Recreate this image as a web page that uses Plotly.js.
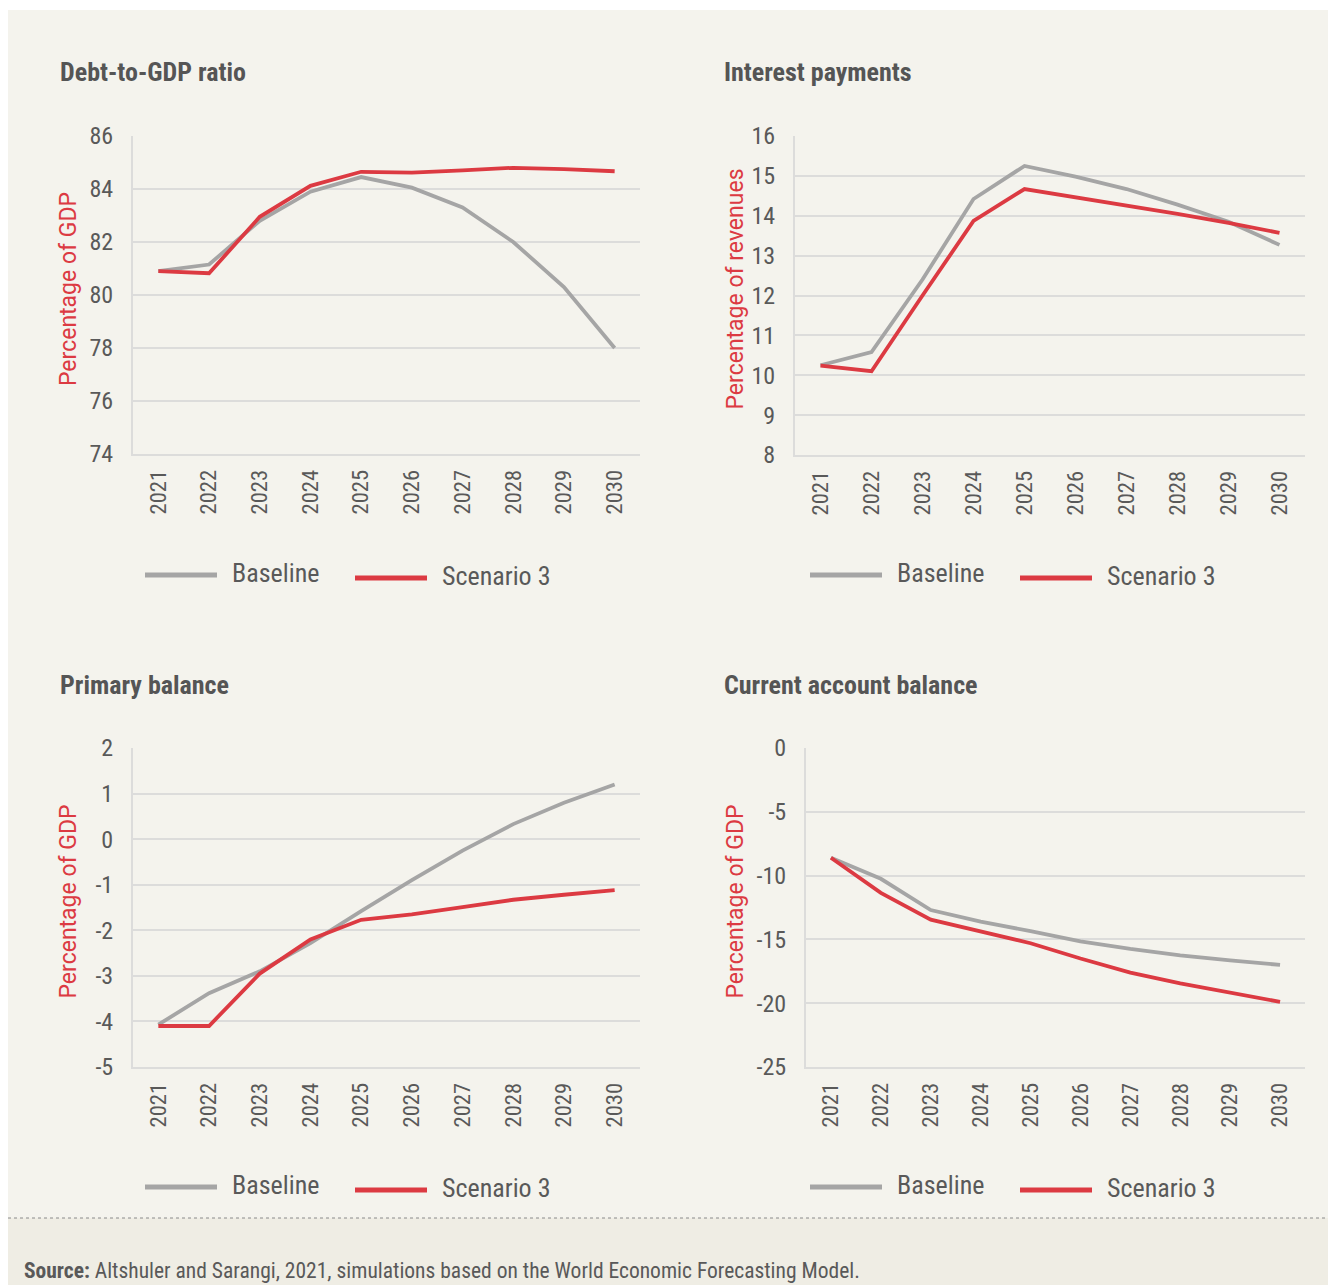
<!DOCTYPE html>
<html>
<head>
<meta charset="utf-8">
<script src="https://cdn.plot.ly/plotly-3.0.1.min.js"></script>
<style>
html,body{margin:0;padding:0;background:#fff;}
#chart{width:1328px;height:1285px;}
</style>
</head>
<body>
<div id="chart"></div>
<script>
const years = ['2021','2022','2023','2024','2025','2026','2027','2028','2029','2030'];
const seriesNames = ['Baseline', 'Scenario 3'];
const panelTitles = ['Debt-to-GDP ratio', 'Interest payments', 'Primary balance', 'Current account balance'];
const axisTitles = ['Percentage of GDP', 'Percentage of revenues', 'Percentage of GDP', 'Percentage of GDP'];

const debtBaseline      = [80.9, 81.15, 82.8, 83.9, 84.45, 84.05, 83.3, 82.0, 80.3, 78.0];
const debtScenario3     = [80.9, 80.82, 82.95, 84.12, 84.65, 84.62, 84.7, 84.8, 84.75, 84.67];
const interestBaseline  = [10.25, 10.58, 12.4, 14.42, 15.25, 14.98, 14.67, 14.28, 13.85, 13.27];
const interestScenario3 = [10.24, 10.1, 12.0, 13.87, 14.67, 14.47, 14.27, 14.05, 13.82, 13.57];
const primaryBaseline   = [-4.07, -3.38, -2.9, -2.28, -1.58, -0.9, -0.25, 0.33, 0.8, 1.2];
const primaryScenario3  = [-4.1, -4.1, -2.95, -2.2, -1.77, -1.65, -1.49, -1.33, -1.22, -1.12];
const caBaseline        = [-8.6, -10.25, -12.7, -13.6, -14.35, -15.15, -15.75, -16.25, -16.65, -17.0];
const caScenario3       = [-8.6, -11.35, -13.45, -14.4, -15.3, -16.5, -17.6, -18.45, -19.2, -19.9];

const debtTicks     = [74, 76, 78, 80, 82, 84, 86];
const interestTicks = [8, 9, 10, 11, 12, 13, 14, 15, 16];
const primaryTicks  = [-5, -4, -3, -2, -1, 0, 1, 2];
const caTicks       = [-25, -20, -15, -10, -5, 0];

const panelTicks = [debtTicks, interestTicks, primaryTicks, caTicks];
const panelData = [[debtBaseline, debtScenario3],[interestBaseline, interestScenario3],[primaryBaseline, primaryScenario3],[caBaseline, caScenario3]];

const W = 1328, H = 1285;
const px = x => x / W;
const py = y => 1 - y / H;

const GRAY = '#a5a5a5', RED = '#dc3a42', TXT = '#595959', GRID = '#dcdcdb';
const NARROW = '"Roboto Condensed", "Open Sans", sans-serif';
const TITLEFONT = 'Roboto, "Liberation Sans", Arial, sans-serif';

const panels = [
  {l:133, r:640, t:136, b:454, titleX:58,  titleY:72,  ytX:68,  legX:145, legY:575},
  {l:795, r:1305, t:136, b:455, titleX:722, titleY:72,  ytX:735, legX:810, legY:575},
  {l:133, r:640, t:748, b:1067, titleX:58,  titleY:685, ytX:68,  legX:145, legY:1187},
  {l:806, r:1305, t:748, b:1067, titleX:722, titleY:685, ytX:735, legX:810, legY:1187}
];

const traces = [];
const layout = {
  width: W, height: H,
  margin: {l:0, r:0, t:0, b:0},
  paper_bgcolor: '#ffffff',
  plot_bgcolor: 'rgba(0,0,0,0)',
  showlegend: false,
  font: {family: NARROW, color: TXT},
  shapes: [
    {type:'rect', xref:'paper', yref:'paper', x0:px(8), x1:1, y0:py(1218), y1:py(10), fillcolor:'#f4f3ed', line:{width:0}, layer:'below'},
    {type:'rect', xref:'paper', yref:'paper', x0:px(8), x1:1, y0:0, y1:py(1218), fillcolor:'#efede4', line:{width:0}, layer:'below'},
    {type:'line', xref:'paper', yref:'paper', x0:px(8), x1:1, y0:py(1218), y1:py(1218), line:{color:'#8a8a8a', width:1, dash:'dot'}}
  ],
  annotations: []
};

panels.forEach((p, i) => {
  const n = i + 1;
  const xa = n === 1 ? 'xaxis' : 'xaxis' + n;
  const ya = n === 1 ? 'yaxis' : 'yaxis' + n;
  const xr = n === 1 ? 'x' : 'x' + n;
  const yr = n === 1 ? 'y' : 'y' + n;
  const tv = panelTicks[i];
  layout[xa] = {
    domain: [px(p.l), px(p.r)], anchor: yr, type: 'category',
    categoryorder: 'array', categoryarray: years,
    range: [-0.5, years.length - 0.5],
    tickangle: -90, tickfont: {size: 22.5, color: TXT, family: NARROW},
    showgrid: false, showline: true, linecolor: GRID, linewidth: 2,
    ticks: '', ticklabelstandoff: 5, fixedrange: true
  };
  layout[ya] = {
    domain: [py(p.b), py(p.t)], anchor: xr,
    range: [tv[0], tv[tv.length - 1]],
    tickmode: 'array', tickvals: tv, ticktext: tv.map(v => String(v)),
    tickfont: {size: 24, color: TXT, family: NARROW},
    showgrid: true, gridcolor: GRID, gridwidth: 2,
    showline: true, linecolor: GRID, linewidth: 2,
    zeroline: false, ticks: '', ticklabelstandoff: 13, fixedrange: true
  };
  const cols = [GRAY, RED];
  panelData[i].forEach((vals, k) => {
    traces.push({
      type: 'scatter', mode: 'lines', x: years, y: vals, name: seriesNames[k],
      xaxis: xr, yaxis: yr,
      line: {color: cols[k], width: 3.8},
      hoverinfo: 'x+y+name'
    });
  });
  layout.annotations.push({
    text: '<b>' + panelTitles[i] + '</b>', xref:'paper', yref:'paper',
    x: px(p.titleX), y: py(p.titleY), xanchor:'left', yanchor:'middle', showarrow:false,
    font: {size: 26, color: '#555555', family: NARROW}
  });
  layout.annotations.push({
    text: axisTitles[i], xref:'paper', yref:'paper', textangle: -90,
    x: px(p.ytX), y: py((p.t + p.b) / 2 - 6), xanchor:'center', yanchor:'middle', showarrow:false,
    font: {size: 23, color: RED, family: TITLEFONT}
  });
  const legendItems = [{dx:0, dy:0, color:GRAY, label:seriesNames[0]}, {dx:210, dy:3, color:RED, label:seriesNames[1]}];
  legendItems.forEach(it => {
    layout.shapes.push({type:'line', xref:'paper', yref:'paper',
      x0: px(p.legX + it.dx), x1: px(p.legX + it.dx + 72), y0: py(p.legY + it.dy), y1: py(p.legY + it.dy),
      line: {color: it.color, width: 5}});
    layout.annotations.push({text: it.label, xref:'paper', yref:'paper',
      x: px(p.legX + it.dx + 85), y: py(p.legY + it.dy - 2), xanchor:'left', yanchor:'middle', showarrow:false,
      font: {size: 26, color: TXT, family: NARROW}});
  });
});

layout.annotations.push({
  text: '<b>Source:</b> Altshuler and Sarangi, 2021, simulations based on the World Economic Forecasting Model.',
  xref:'paper', yref:'paper', x: px(22), y: py(1270), xanchor:'left', yanchor:'middle', showarrow:false,
  font: {size: 21.5, color: TXT, family: NARROW}
});

Plotly.newPlot('chart', traces, layout, {displayModeBar: false, staticPlot: true});
</script>
</body>
</html>
